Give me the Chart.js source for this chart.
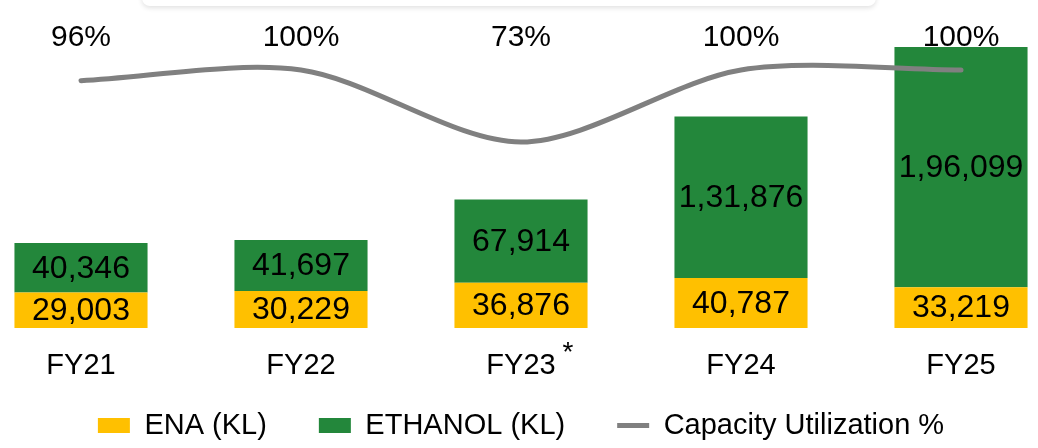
<!DOCTYPE html>
<html>
<head>
<meta charset="utf-8">
<script src="https://cdn.jsdelivr.net/npm/chart.js@4"></script>
<style>
  html, body { margin: 0; padding: 0; background: #fff; overflow: hidden; }
  body { width: 1038px; height: 448px; position: relative; }
  #box { position: absolute; left: 142px; top: -20px; width: 734px; height: 26px; border-radius: 8px;
         background: #fff; box-shadow: 0 2px 5px rgba(0,0,0,0.12); }
  #wrap { position: absolute; left: -29px; top: 0; width: 1100px; height: 448px; }
</style>
</head>
<body>
<div id="box"></div>
<div id="wrap"><canvas id="prodChart" width="1100" height="448"></canvas></div>
<script>
const years = ["FY21", "FY22", "FY23", "FY24", "FY25"];
const yearNotes = ["", "", "*", "", ""];
const enaKL = [29003, 30229, 36876, 40787, 33219];
const ethanolKL = [40346, 41697, 67914, 131876, 196099];
const capacityUtil = [96, 100, 73, 100, 100];

const fmtIN = (v) => v.toLocaleString("en-IN");

// legend keeps wide gaps between items but only takes a thin bottom strip
const legendHeight = {
    id: "legendHeight",
    beforeLayout(chart) {
        const lg = chart.legend;
        if (!lg || lg._patched) return;
        const fit = lg.fit;
        const draw = lg.draw;
        lg.fit = function () {
            fit.call(this);
            this.height = 48;
        };
        lg.draw = function (area) {
            const top = this.top;
            this.top = top - 41;
            draw.call(this, area);
            this.top = top;
        };
        lg._patched = true;
    }
};

// numbers inside the bars, % labels over the line, asterisk next to FY23
const labelPlugin = {
    id: "labels",
    afterDatasetsDraw(chart) {
        const ctx = chart.ctx;
        ctx.save();
        ctx.fillStyle = "#000";
        ctx.textAlign = "center";
        ctx.textBaseline = "middle";
        ctx.font = "32px 'Liberation Sans', Arial, sans-serif";
        [0, 1].forEach((di) => {
            const meta = chart.getDatasetMeta(di);
            meta.data.forEach((bar, i) => {
                const v = chart.data.datasets[di].data[i];
                ctx.fillText(fmtIN(v), bar.x, (bar.y + bar.base) / 2 + 1);
            });
        });

        const lineMeta = chart.getDatasetMeta(2);
        ctx.font = "30px 'Liberation Sans', Arial, sans-serif";
        lineMeta.data.forEach((pt, i) => {
            ctx.fillText(capacityUtil[i] + "%", pt.x, chart.chartArea.top + 18);
        });

        const xs = chart.scales.x;
        ctx.font = "28px 'Liberation Sans', Arial, sans-serif";
        yearNotes.forEach((n, i) => {
            if (!n) return;
            ctx.fillText(n, xs.getPixelForTick(i) + 47, xs.top + 25);
        });
        ctx.restore();
    }
};

const ctx = document.getElementById("prodChart");

new Chart(ctx, {
    data: {
        labels: years,
        datasets: [
            {
                type: "bar",
                label: "ENA (KL)",
                data: enaKL,
                backgroundColor: "#FFC000",
                stack: "prod",
                yAxisID: "y",
                order: 2,
                pointStyle: "rect"
            },
            {
                type: "bar",
                label: "ETHANOL (KL)",
                data: ethanolKL,
                backgroundColor: "#23873B",
                stack: "prod",
                yAxisID: "y",
                order: 2,
                pointStyle: "rect"
            },
            {
                type: "line",
                label: "Capacity Utilization %",
                data: capacityUtil,
                borderColor: "#808080",
                backgroundColor: "#808080",
                borderWidth: 5,
                borderCapStyle: "round",
                tension: 0.3,
                pointRadius: 0,
                yAxisID: "y1",
                order: 1,
                pointStyle: "line"
            }
        ]
    },
    options: {
        responsive: false,
        animation: false,
        layout: { padding: { top: 20, left: 0, right: 0, bottom: 0 } },
        datasets: {
            bar: { categoryPercentage: 1, barPercentage: 0.605 }
        },
        scales: {
            x: {
                stacked: true,
                grid: { display: false },
                border: { display: false },
                afterFit(scale) { scale.height = 72; },
                ticks: {
                    color: "#000",
                    padding: 13,
                    font: { family: "'Liberation Sans', Arial, sans-serif", size: 29 }
                }
            },
            y: { stacked: true, display: false, min: 0, max: 251400 },
            y1: { display: false, min: 3.25, max: 118.75 }
        },
        plugins: {
            tooltip: { enabled: false },
            legend: {
                position: "bottom",
                labels: {
                    color: "#000",
                    usePointStyle: true,
                    pointStyleWidth: 32,
                    boxHeight: 15,
                    padding: 52,
                    sort: (a, b) => a.datasetIndex - b.datasetIndex,
                    font: { family: "'Liberation Sans', Arial, sans-serif", size: 29 }
                }
            }
        }
    },
    plugins: [legendHeight, labelPlugin]
});
</script>
</body>
</html>
